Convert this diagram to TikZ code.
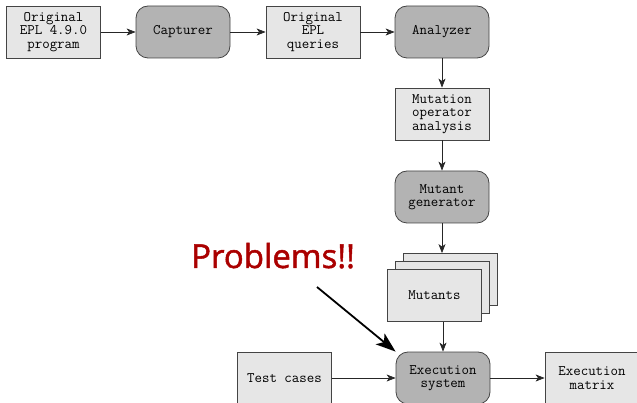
\documentclass[tikz,border=0pt]{standalone}
\usepackage{fontspec}
\newfontfamily\probfont[FakeBold=1.5]{Open Sans}
\usetikzlibrary{arrows.meta}
\definecolor{lightbox}{HTML}{E6E6E6}
\definecolor{darkbox}{HTML}{B3B3B3}
\definecolor{edge}{HTML}{444444}
\definecolor{probred}{HTML}{AA0000}
\begin{document}
\begin{tikzpicture}[x=1pt,y=-1pt,
  every node/.style={font=\ttfamily\fontsize{14.5}{13.5}\selectfont, align=center, inner sep=0pt},
  databox/.style={draw=edge, fill=lightbox, line width=0.8pt, minimum width=94pt, minimum height=52pt},
  procbox/.style={draw=edge, fill=darkbox, line width=0.8pt, rounded corners=12pt, minimum width=94pt, minimum height=52pt},
  flow/.style={draw=black!85, line width=0.7pt, -{Stealth[length=9pt,width=7pt,inset=2.5pt]}},
]
\useasboundingbox (0,0) rectangle (637,403);
\node[databox] (orig) at (53.5,32) {Original\\EPL 4.9.0\\program};
\node[procbox] (capt) at (183,32) {Capturer};
\node[databox] (queries) at (313,32) {Original\\EPL\\queries};
\node[procbox] (anal) at (442,32) {Analyzer};
\node[databox] (mop) at (442,114) {Mutation\\operator\\analysis};
\node[procbox] (gen) at (442,197) {Mutant\\generator};
\node[databox] (mut3) at (450.5,279.5) {};
\node[databox] (mut2) at (442.5,287.5) {};
\node[databox] (mut1) at (434.5,295.5) {Mutants};
\node[procbox] (exec) at (443,378) {Execution\\system};
\node[databox] (tests) at (284.5,378) {Test cases};
\node[databox] (matrix) at (592,378) {Execution\\matrix};
\node[font=\probfont\fontsize{33}{35}\selectfont, text=probred, anchor=base west] (prob) at (191,268) {Problems!!};
\coordinate (pstart) at (317,287);
\draw[flow] (orig) -- (capt);
\draw[flow] (capt) -- (queries);
\draw[flow] (queries) -- (anal);
\draw[flow] (anal) -- (mop);
\draw[flow] (mop) -- (gen);
\draw[flow] (gen.south) -- (gen.south |- mut3.north);
\draw[flow] (mut1.south -| exec.north) -- (exec.north);
\draw[flow] (tests) -- (exec);
\draw[flow] (exec) -- (matrix);
\draw[line width=1.8pt, -{Stealth[length=20pt,width=14pt,inset=5pt]}] (pstart) -- (exec.north west);
\end{tikzpicture}
\end{document}
